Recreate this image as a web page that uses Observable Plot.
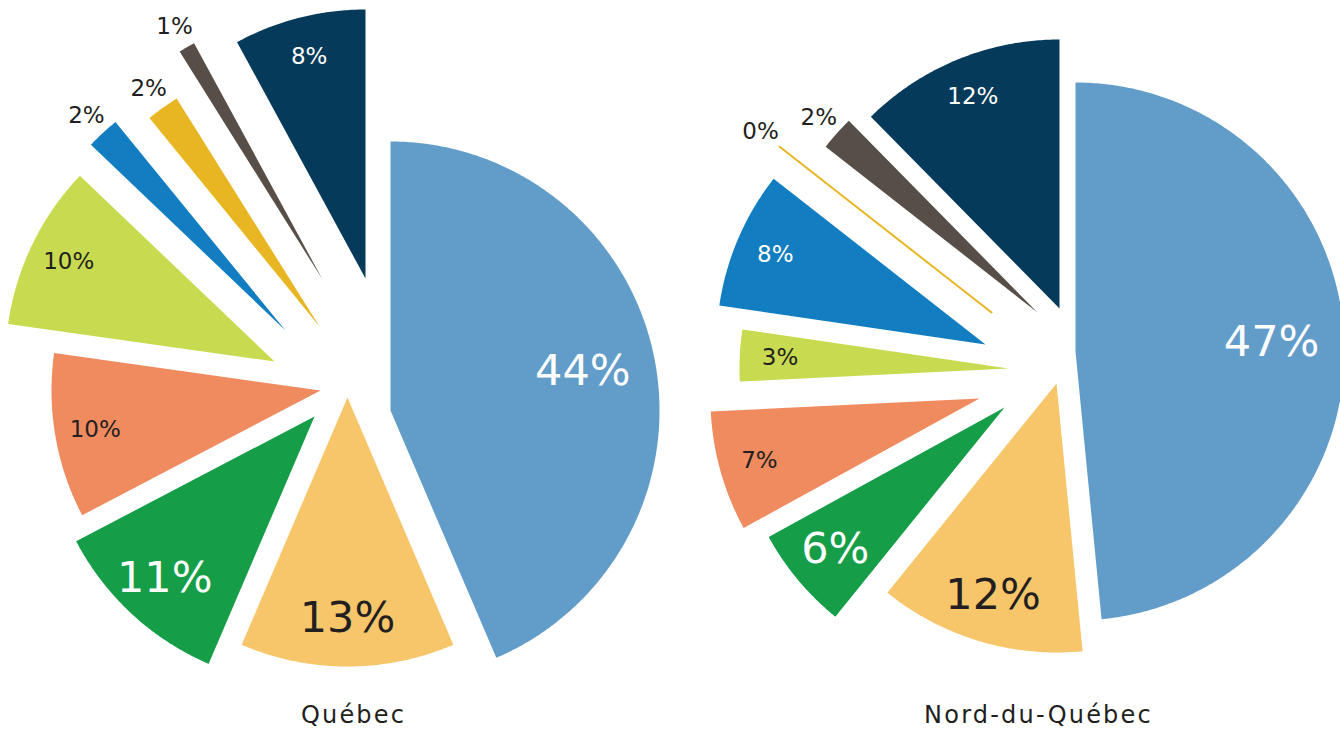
<!DOCTYPE html>
<html>
<head>
<meta charset="utf-8">
<script src="https://cdn.jsdelivr.net/npm/d3@7"></script>
<script src="https://cdn.jsdelivr.net/npm/@observablehq/plot@0.6"></script>
<style>
  html, body { margin: 0; padding: 0; background: #ffffff; }
  #chart svg { display: block; }
  .region-title text { letter-spacing: 2.2px; }
</style>
</head>
<body>
<div id="chart"></div>
<script>
// ---------- data ----------
const regions = ["Québec", "Nord-du-Québec"];
const categories = ["Catégorie 1", "Catégorie 2", "Catégorie 3", "Catégorie 4", "Catégorie 5",
                    "Catégorie 6", "Catégorie 7", "Catégorie 8", "Catégorie 9"];
const quebecValues = [44, 13, 11, 10, 10, 2, 2, 1, 8];
const nordValues   = [47, 12, 6, 7, 3, 8, 0, 2, 12];
const valuesByRegion = {"Québec": quebecValues, "Nord-du-Québec": nordValues};

// ---------- styles ----------
const palette  = ["#629DC9", "#F7C66B", "#159D48", "#EF8B5E", "#C8DB50", "#127DC0", "#E8B622", "#574F47", "#053A5A"];
const labelInk = ["white", "dark", "white", "dark", "dark", "white", "dark", "dark", "white"];
const labelBig = [true, true, true, false, false, false, false, false, false];
const DARK = "#231F20";
const FONT = "'DejaVu Sans', 'Noto Sans', sans-serif";

// ---------- layout (pixels) ----------
const W = 1340, H = 733, R = 269;
const layout = {
  "Québec": {
    cx: 340, cy: 380, titleX: 353,
    offsets: [[50, 30], [7, 17], [-26, 36], [-20, 10], [-66, -19], [-55, -50], [-21, -54], [-18, -101], [25, -102]]
  },
  "Nord-du-Québec": {
    cx: 1030, cy: 360, titleX: 1038,
    offsets: [[45, -9], [26, 23], [-26, 47], [-51, 38], [-22, 8], [-45, -16], [-39, -48], [7, -48], [29, -52]]
  }
};

// ---------- geometry from values ----------
const slices = [], spokes = [], labels = [];
for (const region of regions) {
  const vals = valuesByRegion[region];
  const L = layout[region];
  const arcs = d3.pie().sort(null).value(d => d)(vals);
  arcs.forEach((a, i) => {
    const ax = L.cx + L.offsets[i][0], ay = L.cy + L.offsets[i][1];
    const id = region + "|" + i;
    const category = categories[i];
    const span = a.endAngle - a.startAngle;
    if (span > 1e-6) {
      const n = Math.max(2, Math.ceil(span / (Math.PI / 360)));
      slices.push({id, category, x: ax, y: ay});
      for (let k = 0; k <= n; ++k) {
        const t = a.startAngle + span * k / n;
        slices.push({id, category, x: ax + R * Math.sin(t), y: ay - R * Math.cos(t)});
      }
    } else {
      spokes.push({id, category, x: ax, y: ay});
      spokes.push({id, category, x: ax + R * Math.sin(a.startAngle), y: ay - R * Math.cos(a.startAngle)});
    }
    const mid = (a.startAngle + a.endAngle) / 2;
    const outside = vals[i] <= 2;
    const k = outside ? 1.09 : (i === 0 ? 0.73 : (labelBig[i] ? 0.82 : 0.85));
    labels.push({
      x: ax + k * R * Math.sin(mid),
      y: ay - k * R * Math.cos(mid),
      text: vals[i] + "%",
      size: (!outside && labelBig[i]) ? 43 : 23,
      ink: outside ? "dark" : labelInk[i]
    });
  });
}

const plot = Plot.plot({
  width: W,
  height: H,
  margin: 0,
  x: {domain: [0, W], range: [0, W], axis: null},
  y: {domain: [0, H], range: [0, H], axis: null},
  color: {domain: categories, range: palette},
  style: {fontFamily: FONT, background: "#ffffff", overflow: "hidden"},
  marks: [
    Plot.line(slices, {x: "x", y: "y", z: "id", fill: "category", stroke: "none", curve: "linear"}),
    Plot.line(spokes, {x: "x", y: "y", z: "id", stroke: "category", strokeWidth: 2}),
    Plot.text(labels.filter(d => d.ink === "white"), {x: "x", y: "y", text: "text", fontSize: "size", fill: "white", fontFamily: FONT}),
    Plot.text(labels.filter(d => d.ink === "dark"), {x: "x", y: "y", text: "text", fontSize: "size", fill: DARK, fontFamily: FONT}),
    Plot.text(regions, {x: d => layout[d].titleX, y: () => 715, text: d => d, fontSize: 24, fill: DARK, fontFamily: FONT, className: "region-title"})
  ]
});
document.getElementById("chart").appendChild(plot);
</script>
</body>
</html>
